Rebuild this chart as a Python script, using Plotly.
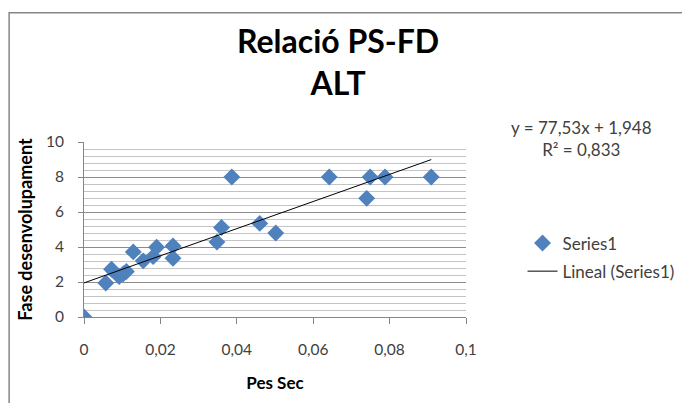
"""
Relació PS-FD (ALT): scatter of dry weight vs development phase with linear trendline.
"""
import plotly.graph_objects as go

# Data
pes_sec = [0.0, 0.0057, 0.0072, 0.0092, 0.0103, 0.0111, 0.0129, 0.0155, 0.0181,
           0.0190, 0.0233, 0.0233, 0.0348, 0.0360, 0.0387, 0.0460, 0.0502,
           0.0642, 0.0740, 0.0749, 0.0788, 0.0909]
fase = [0.0, 1.94, 2.73, 2.31, 2.47, 2.60, 3.72, 3.21, 3.45,
        3.99, 4.06, 3.36, 4.28, 5.11, 8.0, 5.35, 4.80,
        8.0, 6.78, 8.0, 8.0, 8.0]

# Trendline coefficients (as shown on the chart)
slope = 77.53
intercept = 1.948
r2 = 0.833

x_ticks = [0, 0.02, 0.04, 0.06, 0.08, 0.1]
y_ticks = [0, 2, 4, 6, 8, 10]

trend_x = [min(pes_sec), max(pes_sec)]
trend_y = [slope * x + intercept for x in trend_x]

FONT = "Lato"
TXT = "#404040"
AXIS = "#868686"

fig = go.Figure()

fig.add_trace(go.Scatter(
    x=pes_sec, y=fase, mode="markers", name="Series1",
    legendgroup="a",
    marker=dict(symbol="diamond", size=13, color="#4F81BD",
                line=dict(width=0)),
))

fig.add_trace(go.Scatter(
    x=trend_x, y=trend_y, mode="lines", name="Lineal (Series1)",
    legendgroup="b",
    line=dict(color="black", width=1),
))

fig.update_xaxes(
    range=[0, 0.1], tickvals=x_ticks, tickformat="~g",
    showgrid=False, zeroline=False,
    showline=True, linecolor=AXIS, linewidth=1,
    ticks="outside", ticklen=6, tickcolor=AXIS,
    ticklabelstandoff=12,
    tickfont=dict(family=FONT, size=15.5, color=TXT),
    title=dict(text="<b>Pes Sec</b>", standoff=20,
               font=dict(family=FONT, size=17, color="black")),
)

fig.update_yaxes(
    range=[0, 10], tickvals=y_ticks,
    showgrid=True, gridcolor="#8C8C8C", gridwidth=1,
    minor=dict(dtick=0.4, showgrid=True, gridcolor="#C4C4C4", gridwidth=1),
    zeroline=False,
    showline=True, linecolor=AXIS, linewidth=1,
    ticks="outside", ticklen=5, tickcolor=AXIS,
    ticklabelstandoff=11,
    tickfont=dict(family=FONT, size=15.5, color=TXT),
    title=dict(text="<b>Fase desenvolupament</b>", standoff=8,
               font=dict(family=FONT, size=18, color="black")),
)

# trendline equation label
fig.add_annotation(
    xref="paper", yref="paper", x=1.303, y=1.018,
    text=f"y = {slope:.2f}x + {intercept:.3f}<br>R² = {r2:.3f}".replace(".", ","),
    showarrow=False, align="center", xanchor="center", yanchor="middle",
    font=dict(family=FONT, size=17, color=TXT),
)

# chart area border (left and top edges visible)
fig.add_shape(
    type="rect", xref="paper", yref="paper",
    x0=-0.196, y0=-0.6, x1=1.7, y1=1.739,
    line=dict(color=AXIS, width=1.5), layer="below",
)

# page body has an 8px margin, so the figure is 8px smaller than the window
fig.update_layout(
    width=682, height=395,
    paper_bgcolor="white", plot_bgcolor="white",
    margin=dict(l=76, r=223, t=134, b=86),
    separators=",.",
    title=dict(text="<b>Relació PS-FD<br>ALT</b>", x=0.484, xanchor="center",
               xref="container", y=0.885, yref="container", yanchor="top",
               font=dict(family=FONT, size=32, color="black")),
    legend=dict(x=1.145, y=0.34, xanchor="left", yanchor="middle",
                tracegroupgap=3,
                font=dict(family=FONT, size=17, color=TXT),
                bgcolor="rgba(0,0,0,0)"),
    showlegend=True,
)

fig.write_html("out.html")
